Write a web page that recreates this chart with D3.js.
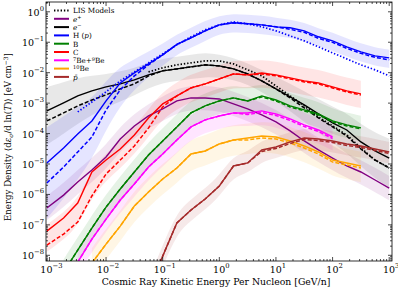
<!DOCTYPE html>
<html>
<head>
<meta charset="utf-8">
<script src="https://cdn.jsdelivr.net/npm/d3@7"></script>
<style>
  body { margin: 0; background: #fff; }
  svg { display: block; }
  text { font-family: "DejaVu Serif", serif; fill: #000; }
</style>
</head>
<body>
<div id="chart"></div>
<script>
// Size of the picture and the plot box inside it
const width = 398, height = 290;
const margin = { top: 2, right: 6, bottom: 29, left: 46 };

// energy grid (GeV/n), quarter decades
const energy = [0.0009, 0.00178, 0.00316, 0.00562, 0.01, 0.0178, 0.0316, 0.0562, 0.1, 0.178, 0.316, 0.562,
  1, 1.78, 3.16, 5.62, 10, 17.8, 31.6, 56.2, 100, 178, 316, 562, 1000];

// energy density (eV cm^-3): data (solid), propagated (dashed), LIS model (dotted)
const hData = [1.08e-5, 3.36e-5, 9.7e-5, 2.6e-4, 1.18e-3, 4.6e-3, 9.8e-3, 1.95e-2, 3.85e-2, 8.5e-2, 0.14, 0.237,
  0.373, 0.435, 0.403, 0.373, 0.321, 0.298, 0.237, 0.151, 0.111, 0.0706, 0.0483, 0.0357, 0.0307];
const hProp = [2.37e-6, 7.96e-6, 2.48e-5, 7.73e-5, 5.97e-4, 2.72e-3, 7.85e-3, 1.81e-2, 3.85e-2, 8.5e-2, 0.14, 0.237,
  0.373, 0.435, 0.403, 0.373, 0.321, 0.266, 0.212, 0.134, 0.099, 0.063, 0.043, 0.032, 0.0264];
const hLIS = [null, null, 5.14e-4, 1.09e-3, 2.34e-3, 5.37e-3, 1.06e-2, 2.10e-2, 4.15e-2, 8.2e-2, 0.151, 0.256,
  0.373, 0.469, 0.403, 0.321, 0.237, 0.162, 0.111, 0.0706, 0.0448, 0.0284, 0.0181, 0.0124, 0.00785];
const hBand = [1.5, 1.35, 1.2, 1.0, 0.8, 0.65, 0.5, 0.42, 0.36, 0.33, 0.33, 0.33, 0.3, 0.3, 0.3, 0.3, 0.3, 0.3,
  0.3, 0.3, 0.3, 0.3, 0.3, 0.3, 0.3];

const eData = [5.54e-4, 1.02e-3, 1.73e-3, 2.52e-3, 3.41e-3, 4.28e-3, 5.8e-3, 8.47e-3, 1.15e-2, 1.33e-2, 1.55e-2, 1.81e-2,
  1.67e-2, 1.33e-2, 9.1e-3, 5.37e-3, 2.93e-3, 1.60e-3, 8.7e-4, 4.41e-4, 2.23e-4, 1.31e-4, 5.3e-5, 2.68e-5, 1.57e-5];
const eProp = [2.6e-4, 4.76e-4, 8.1e-4, 1.27e-3, 1.86e-3, 2.93e-3, 4.28e-3, 7.85e-3, 1.15e-2, 1.33e-2, 1.55e-2, 1.81e-2,
  1.67e-2, 1.33e-2, 9.1e-3, 5.37e-3, 2.93e-3, 1.48e-3, 6.95e-4, 3.26e-4, 1.65e-4, 8.3e-5, 3.11e-5, 1.35e-5, 7.4e-6];
const eLIS = [null, null, null, null, null, null, null, 1.06e-2, 1.44e-2, 1.81e-2, 2.10e-2, 2.44e-2,
  2.44e-2, 1.95e-2, 1.24e-2, 7.85e-3, 3.68e-3, 1.73e-3, 8.1e-4, 3.52e-4, 1.78e-4, 9.0e-5, 3.36e-5, 1.35e-5, 7.4e-6];
const eBand = [0.95, 0.85, 0.75, 0.65, 0.55, 0.5, 0.45, 0.42, 0.4, 0.4, 0.4, 0.4, 0.38, 0.36, 0.35, 0.36, 0.4, 0.45,
  0.5, 0.55, 0.6, 0.65, 0.7, 0.75, 0.8];

const posData = [3.57e-7, 9.5e-7, 2.56e-6, 6.35e-6, 1.70e-5, 6.64e-5, 1.78e-4, 3.79e-4, 6.45e-4, 1.18e-3, 1.48e-3, 1.48e-3,
  1.37e-3, 9.4e-4, 6.45e-4, 4.09e-4, 2.41e-4, 1.22e-4, 5.71e-5, 2.89e-5, 1.57e-5, 8.6e-6, 5.46e-6, 2.98e-6, 1.62e-6];

const cData = [6.25e-8, 1.67e-7, 5.21e-7, 5.46e-6, 1.35e-5, 3.11e-5, 9.0e-5, 3.26e-4, 9.4e-4, 1.73e-3, 3.16e-3, 4.28e-3,
  6.25e-3, 9.1e-3, 8.47e-3, 9.8e-3, 8.47e-3, 6.75e-3, 5.37e-3, 4.6e-3, 3.41e-3, 2.52e-3, 2.01e-3, null, null];
const cProp = [2.17e-8, 4.98e-8, 1.24e-7, 8.9e-7, 4.69e-6, 1.35e-5, 3.91e-5, 1.53e-4, 7.5e-4, 1.73e-3, 3.16e-3, 4.28e-3,
  6.25e-3, 9.1e-3, 8.47e-3, 9.1e-3, 7.85e-3, 6.25e-3, 4.98e-3, 4.28e-3, 3.16e-3, 2.34e-3, 1.86e-3, null, null];

const bData = [null, 2.8e-9, 1.48e-8, 7.85e-8, 3.85e-7, 1.51e-6, 5.46e-6, 1.98e-5, 5.71e-5, 1.65e-4, 4.76e-4, 8.1e-4,
  1.18e-3, 1.48e-3, 1.18e-3, 1.73e-3, 1.27e-3, 8.1e-4, 5.97e-4, 4.41e-4, 2.6e-4, 1.92e-4, 1.53e-4, null, null];
const bProp = [null, 2.8e-9, 1.48e-8, 7.85e-8, 3.85e-7, 1.51e-6, 5.46e-6, 1.98e-5, 5.71e-5, 1.65e-4, 4.76e-4, 8.1e-4,
  1.18e-3, 1.48e-3, 1.18e-3, 1.6e-3, 1.18e-3, 7.5e-4, 5.54e-4, 4.09e-4, 2.41e-4, 1.78e-4, 1.42e-4, null, null];

const beData = [null, null, 5.97e-9, 3.41e-8, 1.55e-7, 6.54e-7, 2.2e-6, 7.96e-6, 2.13e-5, 6.15e-5, 1.65e-4, 2.8e-4,
  3.79e-4, 4.76e-4, 4.76e-4, 5.54e-4, 4.41e-4, 3.02e-4, 1.92e-4, 1.31e-4, 7.73e-5, null, null, null, null];
const beProp = [null, null, 5.97e-9, 3.41e-8, 1.55e-7, 6.54e-7, 2.2e-6, 7.96e-6, 2.13e-5, 6.15e-5, 1.65e-4, 2.8e-4,
  3.79e-4, 4.76e-4, 4.25e-4, 4.94e-4, 3.94e-4, 2.7e-4, 1.71e-4, 1.17e-4, 6.9e-5, null, null, null, null];

const be10Data = [null, null, null, 5.54e-9, 2.34e-8, 9.1e-8, 4.15e-7, 1.2e-6, 3.21e-6, 7.4e-6, 2.13e-5, 2.68e-5,
  4.55e-5, 6.15e-5, 7.16e-5, 8.3e-5, 7.73e-5, 5.71e-5, 3.91e-5, 2.48e-5, 1.35e-5, 1.08e-5, 8.6e-6, null, null];
const be10Prop = [null, null, null, 5.54e-9, 2.34e-8, 9.1e-8, 4.15e-7, 1.2e-6, 3.21e-6, 7.4e-6, 2.13e-5, 2.68e-5,
  4.55e-5, 6.15e-5, 6.15e-5, 7.16e-5, 6.64e-5, 4.91e-5, 3.36e-5, 2.13e-5, 1.16e-5, 9.27e-6, 7.4e-6, null, null];

const pbarData = [null, null, null, null, null, null, null, 7.2e-10, 9.4e-9, 1.15e-7, 3.07e-7, 7.06e-7,
  1.89e-6, 8.6e-6, 1.08e-5, 2.89e-5, 3.62e-5, 5.3e-5, 7.16e-5, 6.64e-5, 5.71e-5, 4.55e-5, 3.91e-5, 3.11e-5, 2.48e-5];
const pbarProp = [null, null, null, null, null, null, null, 7.2e-10, 9.4e-9, 1.15e-7, 3.07e-7, 7.06e-7,
  1.89e-6, 8.6e-6, 1.08e-5, 2.58e-5, 3.24e-5, 4.72e-5, 6.4e-5, 5.93e-5, 5.1e-5, 4.06e-5, 3.49e-5, 2.78e-5, 2.21e-5];

// axis ticks
const xTicks = [-3, -2, -1, 0, 1, 2, 3];
const yTicks = [-8, -7, -6, -5, -4, -3, -2, -1, 0];

const species = [
  { name: "e+", color: "#800080", data: posData, prop: null, band: 0.4 },
  { name: "e-", color: "#000000", data: eData, prop: eProp, lis: eLIS, band: eBand },
  { name: "H", color: "#0000ff", data: hData, prop: hProp, lis: hLIS, band: hBand },
  { name: "B", color: "#008000", data: bData, prop: bProp, band: 0.42 },
  { name: "C", color: "#ff0000", data: cData, prop: cProp, band: 0.45 },
  { name: "Be", color: "#ff00ff", data: beData, prop: beProp, band: 0.42 },
  { name: "10Be", color: "#ffa500", data: be10Data, prop: be10Prop, band: 0.5 },
  { name: "pbar", color: "#a52a2a", data: pbarData, prop: pbarProp, band: 0.35 }
];

const svg = d3.select("#chart").append("svg")
  .attr("width", width)
  .attr("height", height);

const x = d3.scaleLog().domain([8.7e-4, 1.12e3]).range([margin.left, width - margin.right]);
const y = d3.scaleLog().domain([6.5e-9, 2.1]).range([height - margin.bottom, margin.top]);

svg.append("clipPath").attr("id", "plotclip")
  .append("rect")
  .attr("x", margin.left).attr("y", margin.top)
  .attr("width", width - margin.left - margin.right)
  .attr("height", height - margin.top - margin.bottom);

const plot = svg.append("g").attr("clip-path", "url(#plotclip)");

function toPoints(arr) {
  return energy.map((e, i) => [e, arr[i]]);
}

const lineGen = d3.line()
  .defined(d => d[1] != null)
  .x(d => x(d[0]))
  .y(d => y(d[1]));

// shaded bands, centred between data and propagated curve
species.forEach(s => {
  const pts = energy.map((e, i) => {
    if (s.data[i] == null) return null;
    let c = Math.log10(s.data[i]);
    if (s.prop && s.prop[i] != null) c = (c + Math.log10(s.prop[i])) / 2;
    const w = Array.isArray(s.band) ? s.band[i] : s.band;
    return { e: e, lo: Math.pow(10, c - w), hi: Math.pow(10, c + w) };
  }).filter(d => d);
  const area = d3.area()
    .curve(d3.curveBasis)
    .x(d => x(d.e))
    .y0(d => y(d.lo))
    .y1(d => y(d.hi));
  plot.append("path")
    .attr("d", area(pts))
    .attr("fill", s.color)
    .attr("fill-opacity", s.name === "e-" ? 0.09 : 0.1);
});

// lines
species.forEach(s => {
  if (s.lis) {
    plot.append("path")
      .attr("d", lineGen(toPoints(s.lis)))
      .attr("fill", "none")
      .attr("stroke", s.color)
      .attr("stroke-width", 1.7)
      .attr("stroke-dasharray", "1.4,1.9");
  }
  if (s.prop) {
    plot.append("path")
      .attr("d", lineGen(toPoints(s.prop)))
      .attr("fill", "none")
      .attr("stroke", s.color)
      .attr("stroke-width", 1.5)
      .attr("stroke-dasharray", "4,2");
  }
  plot.append("path")
    .attr("d", lineGen(toPoints(s.data)))
    .attr("fill", "none")
    .attr("stroke", s.color)
    .attr("stroke-width", 1.4);
});

// frame and ticks (inward on all four sides)
const x0 = margin.left, x1 = width - margin.right;
const y0 = height - margin.bottom, y1 = margin.top;

const majorX = xTicks.map(p => Math.pow(10, p));
const minorX = [];
d3.range(-4, 3).forEach(p => d3.range(2, 10).forEach(m => {
  const v = m * Math.pow(10, p);
  if (v > x.domain()[0] && v < x.domain()[1]) minorX.push(v);
}));
const majorY = yTicks.map(p => Math.pow(10, p));
const minorY = [];
d3.range(-9, 1).forEach(p => d3.range(2, 10).forEach(m => {
  const v = m * Math.pow(10, p);
  if (v > y.domain()[0] && v < y.domain()[1]) minorY.push(v);
}));

const ticks = svg.append("g").attr("stroke", "#000").attr("stroke-width", 0.7);
function tickSet(vals, len) {
  vals.forEach(v => {
    const px = x(v);
    ticks.append("line").attr("x1", px).attr("x2", px).attr("y1", y0).attr("y2", y0 - len);
    ticks.append("line").attr("x1", px).attr("x2", px).attr("y1", y1).attr("y2", y1 + len);
  });
}
function tickSetY(vals, len) {
  vals.forEach(v => {
    const py = y(v);
    ticks.append("line").attr("y1", py).attr("y2", py).attr("x1", x0).attr("x2", x0 + len);
    ticks.append("line").attr("y1", py).attr("y2", py).attr("x1", x1).attr("x2", x1 - len);
  });
}
tickSet(majorX, 4);
tickSet(minorX, 2);
tickSetY(majorY, 4);
tickSetY(minorY, 2);

svg.append("rect")
  .attr("x", x0).attr("y", y1)
  .attr("width", x1 - x0).attr("height", y0 - y1)
  .attr("fill", "none").attr("stroke", "#000").attr("stroke-width", 0.8);

function powLabel(t, p) {
  t.append("tspan").text("10");
  t.append("tspan").attr("dy", -5).attr("font-size", 6.8).text(p < 0 ? "\u2212" + (-p) : String(p));
}

xTicks.forEach(p => {
  const t = svg.append("text")
    .attr("x", x(Math.pow(10, p)) + 2)
    .attr("y", y0 + 12)
    .attr("text-anchor", "middle")
    .attr("font-size", 9.5);
  powLabel(t, p);
});

yTicks.forEach(p => {
  const t = svg.append("text")
    .attr("x", x0 - 2)
    .attr("y", y(Math.pow(10, p)) + 4)
    .attr("text-anchor", "end")
    .attr("font-size", 9.5);
  powLabel(t, p);
});

// axis titles
svg.append("text")
  .attr("x", 216)
  .attr("y", 285)
  .attr("text-anchor", "middle")
  .attr("font-size", 9.3)
  .text("Cosmic Ray Kinetic Energy Per Nucleon [GeV/n]");

const yl = svg.append("text")
  .attr("transform", "translate(11,137) rotate(-90)")
  .attr("text-anchor", "middle")
  .attr("font-size", 8.6);
yl.append("tspan").text("Energy Density \u27e8d");
yl.append("tspan").attr("font-style", "italic").text("\u03b5");
yl.append("tspan").attr("font-size", 6).attr("dy", 2).attr("font-style", "italic").text("\u03c3");
yl.append("tspan").attr("dy", -2).text("/d ln(");
yl.append("tspan").attr("font-style", "italic").text("T");
yl.append("tspan").text(")\u27e9 [eV cm");
yl.append("tspan").attr("font-size", 6).attr("dy", -3.5).text("\u22123");
yl.append("tspan").attr("dy", 3.5).text("]");

// legend
const legendItems = [
  { color: "#000000", dash: "1.4,1.9", parts: [["LIS Models"]] },
  { color: "#800080", parts: [["e", "i"], ["+", "sup"]] },
  { color: "#000000", parts: [["e", "i"], ["\u2212", "sup"]] },
  { color: "#0000ff", parts: [["H ("], ["p", "i"], [")"]] },
  { color: "#008000", parts: [["B"]] },
  { color: "#ff0000", parts: [["C"]] },
  { color: "#ff00ff", parts: [["7", "sup"], ["Be+", "base"], ["9", "sup"], ["Be", "base"]] },
  { color: "#ffa500", parts: [["10", "sup"], ["Be", "base"]] },
  { color: "#a52a2a", parts: [["p\u0304", "i"]] }
];

const legend = svg.append("g");
legendItems.forEach((d, i) => {
  const ly = 10.5 + i * 8.3;
  legend.append("line")
    .attr("x1", 54).attr("x2", 69)
    .attr("y1", ly).attr("y2", ly)
    .attr("stroke", d.color)
    .attr("stroke-width", d.dash ? 1.8 : 2)
    .attr("stroke-dasharray", d.dash || null);
  const t = legend.append("text")
    .attr("x", 73).attr("y", ly + 2.8)
    .attr("font-size", 7.2);
  let raised = false;
  d.parts.forEach(([txt, kind]) => {
    const sp = t.append("tspan").text(txt);
    if (kind === "i") sp.attr("font-style", "italic");
    if (kind === "sup") {
      sp.attr("font-size", 5);
      if (!raised) { sp.attr("dy", -2.6); raised = true; }
    } else if (raised) {
      sp.attr("dy", 2.6); raised = false;
    }
  });
});
</script>
</body>
</html>
